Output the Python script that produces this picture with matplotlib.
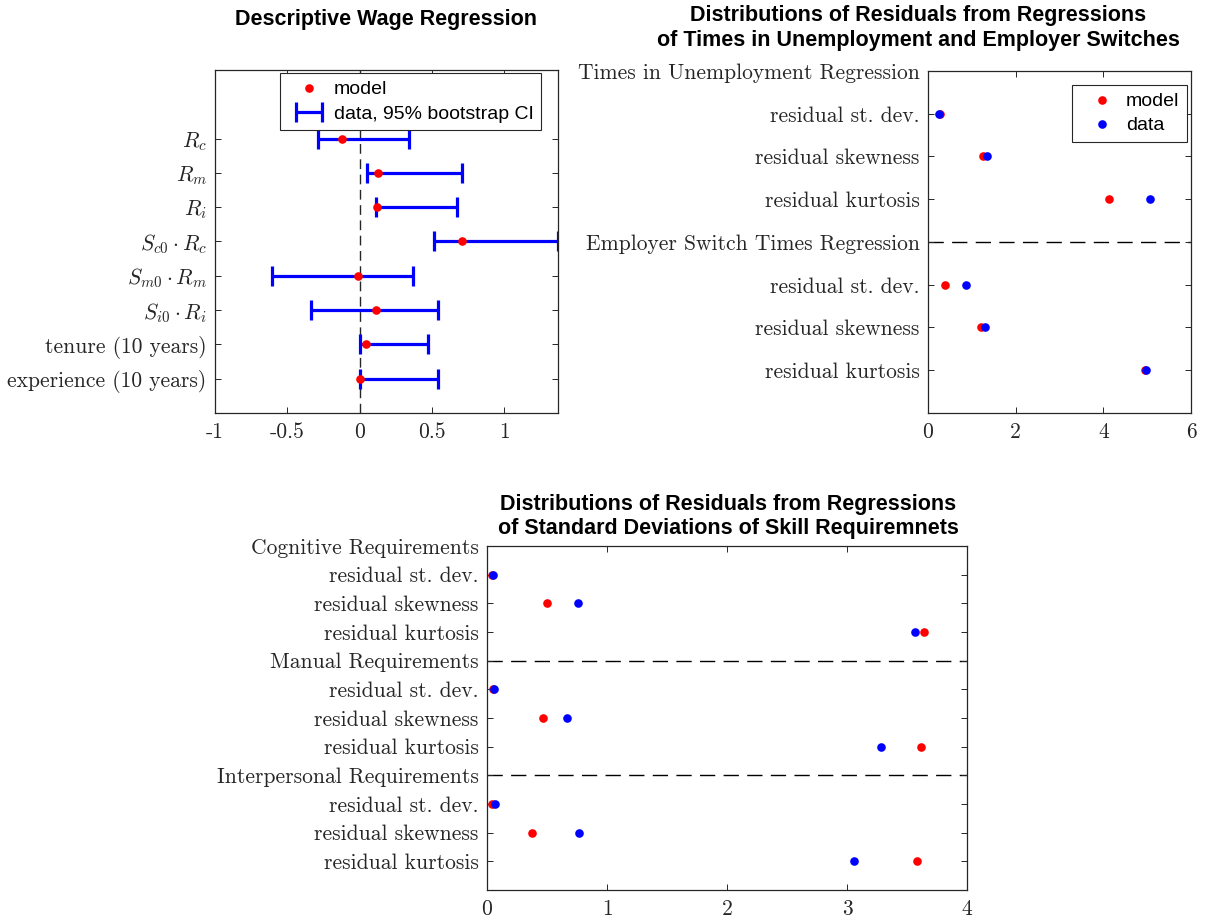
import matplotlib
matplotlib.use("Agg")
import matplotlib.pyplot as plt
from matplotlib.lines import Line2D
from matplotlib.container import ErrorbarContainer
from matplotlib.legend_handler import HandlerErrorbar

plt.rcParams['mathtext.fontset'] = 'cm'
plt.rcParams['axes.unicode_minus'] = False

# ---------------- data ----------------
wage_labels = [r'$R_c$', r'$R_m$', r'$R_i$', r'$S_{c0}\cdot R_c$', r'$S_{m0}\cdot R_m$',
               r'$S_{i0}\cdot R_i$', 'tenure (10 years)', 'experience (10 years)']
wage_model = [-0.125, 0.125, 0.12, 0.71, -0.01, 0.115, 0.04, 0.0]
wage_data_est = [0.02, 0.38, 0.39, 0.94, -0.12, 0.10, 0.23, 0.27]
wage_data_lo = [-0.29, 0.05, 0.11, 0.51, -0.605, -0.34, 0.0, 0.0]
wage_data_hi = [0.34, 0.71, 0.67, 1.37, 0.37, 0.54, 0.47, 0.54]
wage_xticks = [-1, -0.5, 0, 0.5, 1]
wage_xticklabels = ['-1', '-0.5', '0', '0.5', '1']

tr_labels = ['Times in Unemployment Regression', 'residual st. dev.', 'residual skewness',
             'residual kurtosis', 'Employer Switch Times Regression', 'residual st. dev.',
             'residual skewness', 'residual kurtosis']
tr_model = [None, 0.28, 1.26, 4.14, None, 0.38, 1.20, 4.95]
tr_data = [None, 0.245, 1.34, 5.07, None, 0.86, 1.29, 4.97]
tr_xticks = [0, 2, 4, 6]

bt_labels = ['Cognitive Requirements', 'residual st. dev.', 'residual skewness', 'residual kurtosis',
             'Manual Requirements', 'residual st. dev.', 'residual skewness', 'residual kurtosis',
             'Interpersonal Requirements', 'residual st. dev.', 'residual skewness', 'residual kurtosis']
bt_model = [None, 0.04, 0.50, 3.64, None, 0.05, 0.47, 3.62, None, 0.045, 0.376, 3.58]
bt_data = [None, 0.047, 0.755, 3.57, None, 0.06, 0.67, 3.28, None, 0.063, 0.767, 3.06]
bt_xticks = [0, 1, 2, 3, 4]

# ---------------- style ----------------
AX_COL = '0.15'
TICK_FS = 15.5
TITLE_FS = 15.5
LEG_FS = 14
MS = 6.2
DASH_H = (0, (11, 6))

fig = plt.figure(figsize=(12.1, 9.21), dpi=100)


def style_axes(ax):
    for s in ax.spines.values():
        s.set_color(AX_COL)
        s.set_linewidth(0.9)
    ax.tick_params(direction='in', length=4, width=0.7, colors=AX_COL,
                   top=True, right=True, labelsize=TICK_FS)
    ax.tick_params(axis='x', pad=7)
    ax.tick_params(axis='y', pad=6)
    for lab in ax.get_xticklabels() + ax.get_yticklabels():
        lab.set_fontfamily('cmr10')
        lab.set_color('0.15')


def split(vals):
    ys = [i for i, v in enumerate(vals) if v is not None]
    xs = [v for v in vals if v is not None]
    return xs, ys


LEG_KW = dict(loc='upper right', borderaxespad=0, fancybox=False, edgecolor=AX_COL,
              framealpha=1, prop={'family': 'Liberation Sans', 'size': LEG_FS},
              handlelength=2.2, handletextpad=0.15, labelspacing=0.33, borderpad=0.4)

# ---------- top-left ----------
ax1 = fig.add_axes([215 / 1210, 1 - 413 / 921, (558 - 215) / 1210, (413 - 70) / 921])
ypos = list(range(1, len(wage_labels) + 1))
ax1.axvline(0, color='0.15', linestyle=(0, (7, 4)), linewidth=1.0, zorder=1)
xerr = [[e - lo for e, lo in zip(wage_data_est, wage_data_lo)],
        [hi - e for e, hi in zip(wage_data_est, wage_data_hi)]]
eb = ax1.errorbar(wage_data_est, ypos, xerr=xerr, fmt='none', ecolor='blue',
                  elinewidth=2.3, capsize=7.5, capthick=2.3, zorder=2)
ax1.plot(wage_model, ypos, 'o', color='red', markersize=MS, markeredgewidth=0, zorder=3)
ax1.set_xlim(-1, 1.37)
ax1.set_ylim(9, -1)
ax1.set_yticks(ypos)
ax1.set_yticklabels(wage_labels)
ax1.set_xticks(wage_xticks)
ax1.set_xticklabels(wage_xticklabels)
style_axes(ax1)
h_model = Line2D([], [], marker='o', linestyle='none', color='red', markersize=MS, markeredgewidth=0)
leg1 = ax1.legend([h_model, eb], ['model', 'data, 95% bootstrap CI'],
                  bbox_to_anchor=(0.951, 0.991),
                  handler_map={ErrorbarContainer: HandlerErrorbar(xerr_size=0.67)}, **LEG_KW)
leg1.get_frame().set_linewidth(0.8)
fig.text(386 / 1210, 1 - 20 / 921, 'Descriptive Wage Regression', ha='center', va='center',
         fontsize=TITLE_FS, fontweight='bold', family='Liberation Sans')

# ---------- top-right ----------
ax2 = fig.add_axes([928 / 1210, 1 - 413 / 921, (1191 - 928) / 1210, (413 - 71) / 921])
ax2.axhline(4, color='black', linestyle=DASH_H, linewidth=1.0, zorder=1)
mx, my = split(tr_model)
dx, dy = split(tr_data)
ax2.plot(mx, my, 'o', color='red', markersize=MS, markeredgewidth=0, zorder=2, label='model')
ax2.plot(dx, dy, 'o', color='blue', markersize=MS, markeredgewidth=0, zorder=3, label='data')
ax2.set_xlim(0, 6)
ax2.set_ylim(8, 0)
ax2.set_yticks(range(len(tr_labels)))
ax2.set_yticklabels(tr_labels)
ax2.set_xticks(tr_xticks)
ax2.set_xticklabels([str(t) for t in tr_xticks])
style_axes(ax2)
leg2 = ax2.legend(bbox_to_anchor=(0.985, 0.959), **LEG_KW)
leg2.get_frame().set_linewidth(0.8)
fig.text(918 / 1210, 1 - 28 / 921,
         'Distributions of Residuals from Regressions\nof Times in Unemployment and Employer Switches',
         ha='center', va='center', fontsize=TITLE_FS, fontweight='bold', family='Liberation Sans',
         linespacing=1.2)

# ---------- bottom ----------
ax3 = fig.add_axes([487 / 1210, 1 - 890 / 921, (967 - 487) / 1210, (890 - 546) / 921])
ax3.axhline(4, color='black', linestyle=DASH_H, linewidth=1.0, zorder=1)
ax3.axhline(8, color='black', linestyle=DASH_H, linewidth=1.0, zorder=1)
mx, my = split(bt_model)
dx, dy = split(bt_data)
ax3.plot(mx, my, 'o', color='red', markersize=MS, markeredgewidth=0, zorder=2)
ax3.plot(dx, dy, 'o', color='blue', markersize=MS, markeredgewidth=0, zorder=3)
ax3.set_xlim(0, 4)
ax3.set_ylim(12, 0)
ax3.set_yticks(range(len(bt_labels)))
ax3.set_yticklabels(bt_labels)
ax3.set_xticks(bt_xticks)
ax3.set_xticklabels([str(t) for t in bt_xticks])
style_axes(ax3)
fig.text(728 / 1210, 1 - 516.5 / 921,
         'Distributions of Residuals from Regressions\nof Standard Deviations of Skill Requiremnets',
         ha='center', va='center', fontsize=TITLE_FS, fontweight='bold', family='Liberation Sans',
         linespacing=1.2)

fig.savefig('out.png', dpi=100)
